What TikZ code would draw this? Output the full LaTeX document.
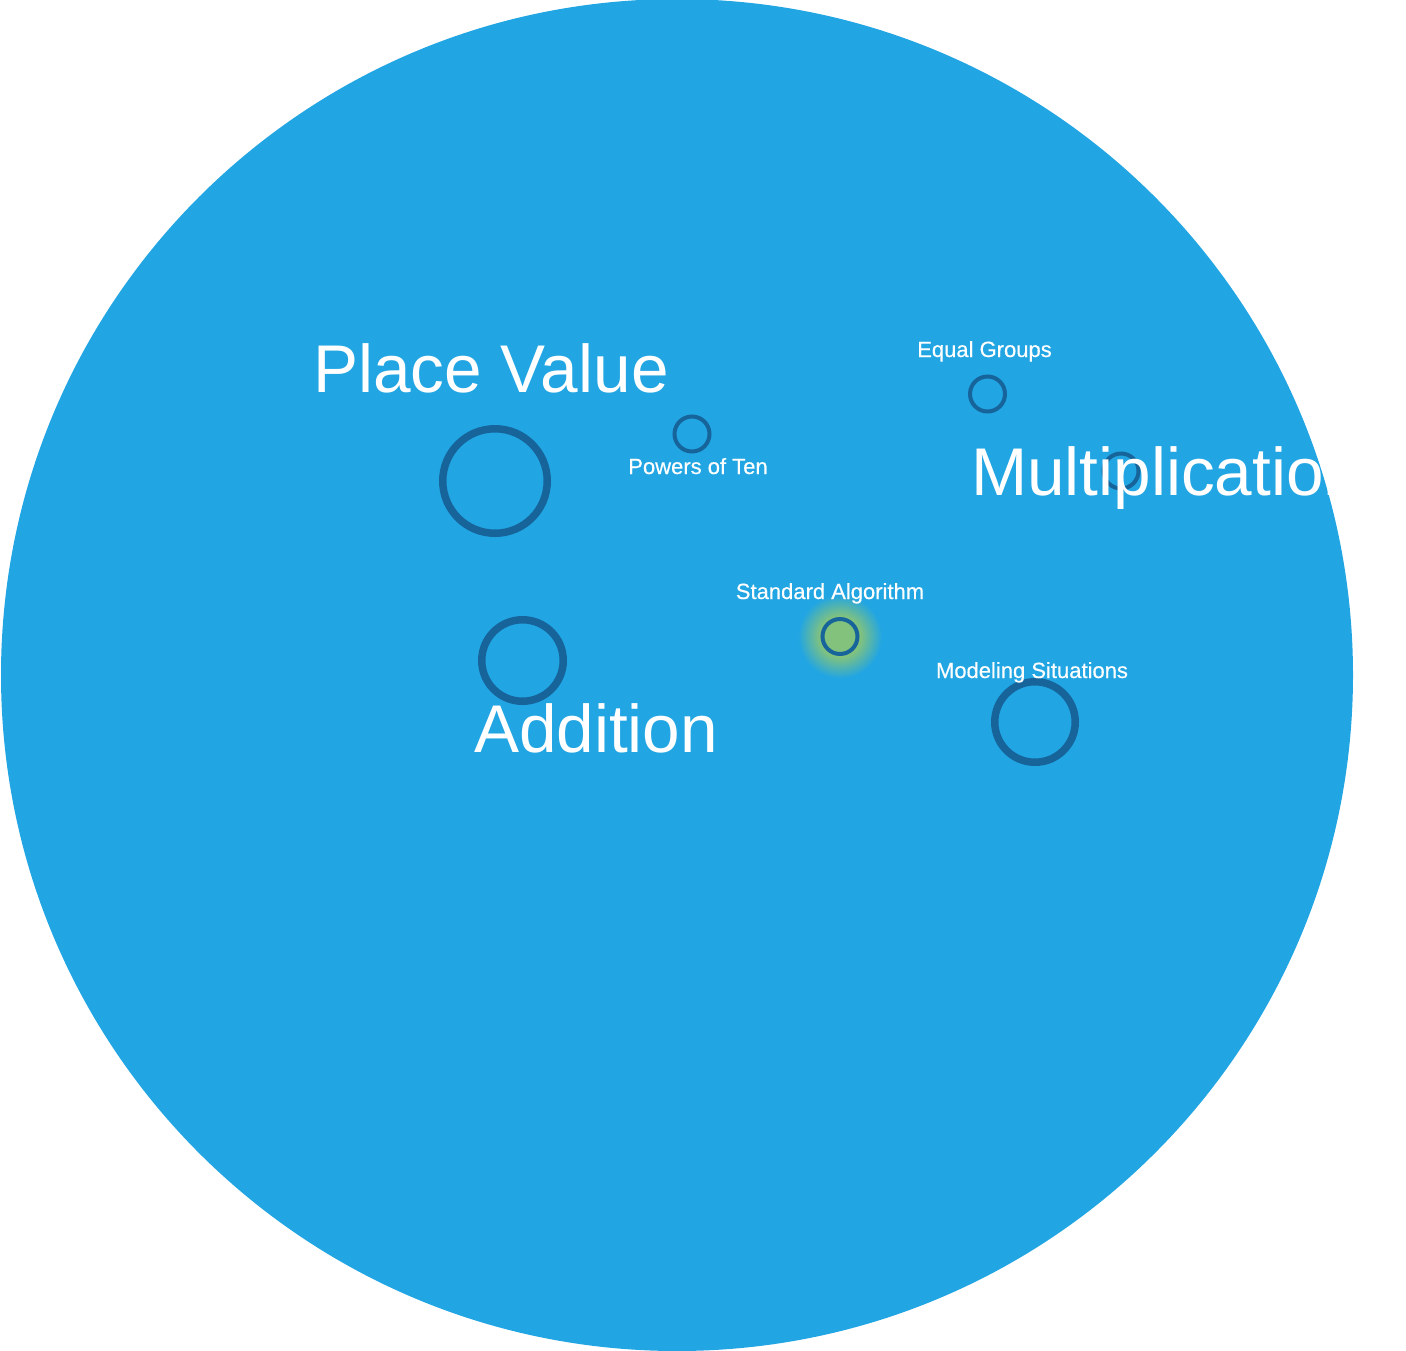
\documentclass[tikz,border=0pt]{standalone}
\usepackage{fontspec}
\setmainfont{Liberation Sans}
\definecolor{bgblue}{HTML}{21A5E3}
\definecolor{ringblue}{HTML}{17649B}
\definecolor{glowg}{HTML}{82C27D}
\pgfdeclareradialshading{glowshade}{\pgfpoint{0bp}{0bp}}{color(0bp)=(glowg); color(12bp)=(glowg); color(25bp)=(bgblue); color(50bp)=(bgblue)}
\tikzset{
  ring/.style={circle, draw=ringblue, inner sep=0pt, fill=none},
  bigring/.style={ring, line width=7.5pt},
  smallring/.style={ring, line width=4pt, minimum size=35pt},
  biglabel/.style={text=white, inner sep=0pt, font=\fontsize{67.5}{70}\selectfont},
  smalllabel/.style={text=white, inner sep=0pt, font=\fontsize{22}{24}\selectfont\addfontfeature{FakeBold=0.4}},
}
\begin{document}
\begin{tikzpicture}[x=1pt,y=-1pt]
\useasboundingbox (0,0) rectangle (1406,1350);
\fill[bgblue] (677,675) circle (676pt);
\begin{scope}
\clip (677,675) circle (676pt);
\shade[shading=glowshade] (840,636.5) circle (42pt);
\node[bigring, minimum size=104.5pt] (pv) at (495,481) {};
\node[bigring, minimum size=81.5pt] (add) at (522.5,660.5) {};
\node[bigring, minimum size=80.5pt] (mod) at (1035,722) {};
\node[smallring] (pow) at (692,434) {};
\node[smallring] (eq) at (987.5,394) {};
\node[smallring] (std) at (840,636.5) {};
\node[smallring] (mul) at (1121,471) {};
\node[biglabel, anchor=base] (pvl) at (491,392.5) {Place Value};
\node[biglabel, anchor=base] (addl) at (596,752) {Addition};
\node[biglabel, anchor=base west] (mull) at (971,495) {Multiplication};
\node[smalllabel, anchor=base] (powl) at (698,474) {Powers of Ten};
\node[smalllabel, anchor=base] (eql) at (984.5,357) {Equal Groups};
\node[smalllabel, anchor=base] (stdl) at (830,599) {Standard Algorithm};
\node[smalllabel, anchor=base] (modl) at (1032,678) {Modeling Situations};
\end{scope}
\end{tikzpicture}
\end{document}
